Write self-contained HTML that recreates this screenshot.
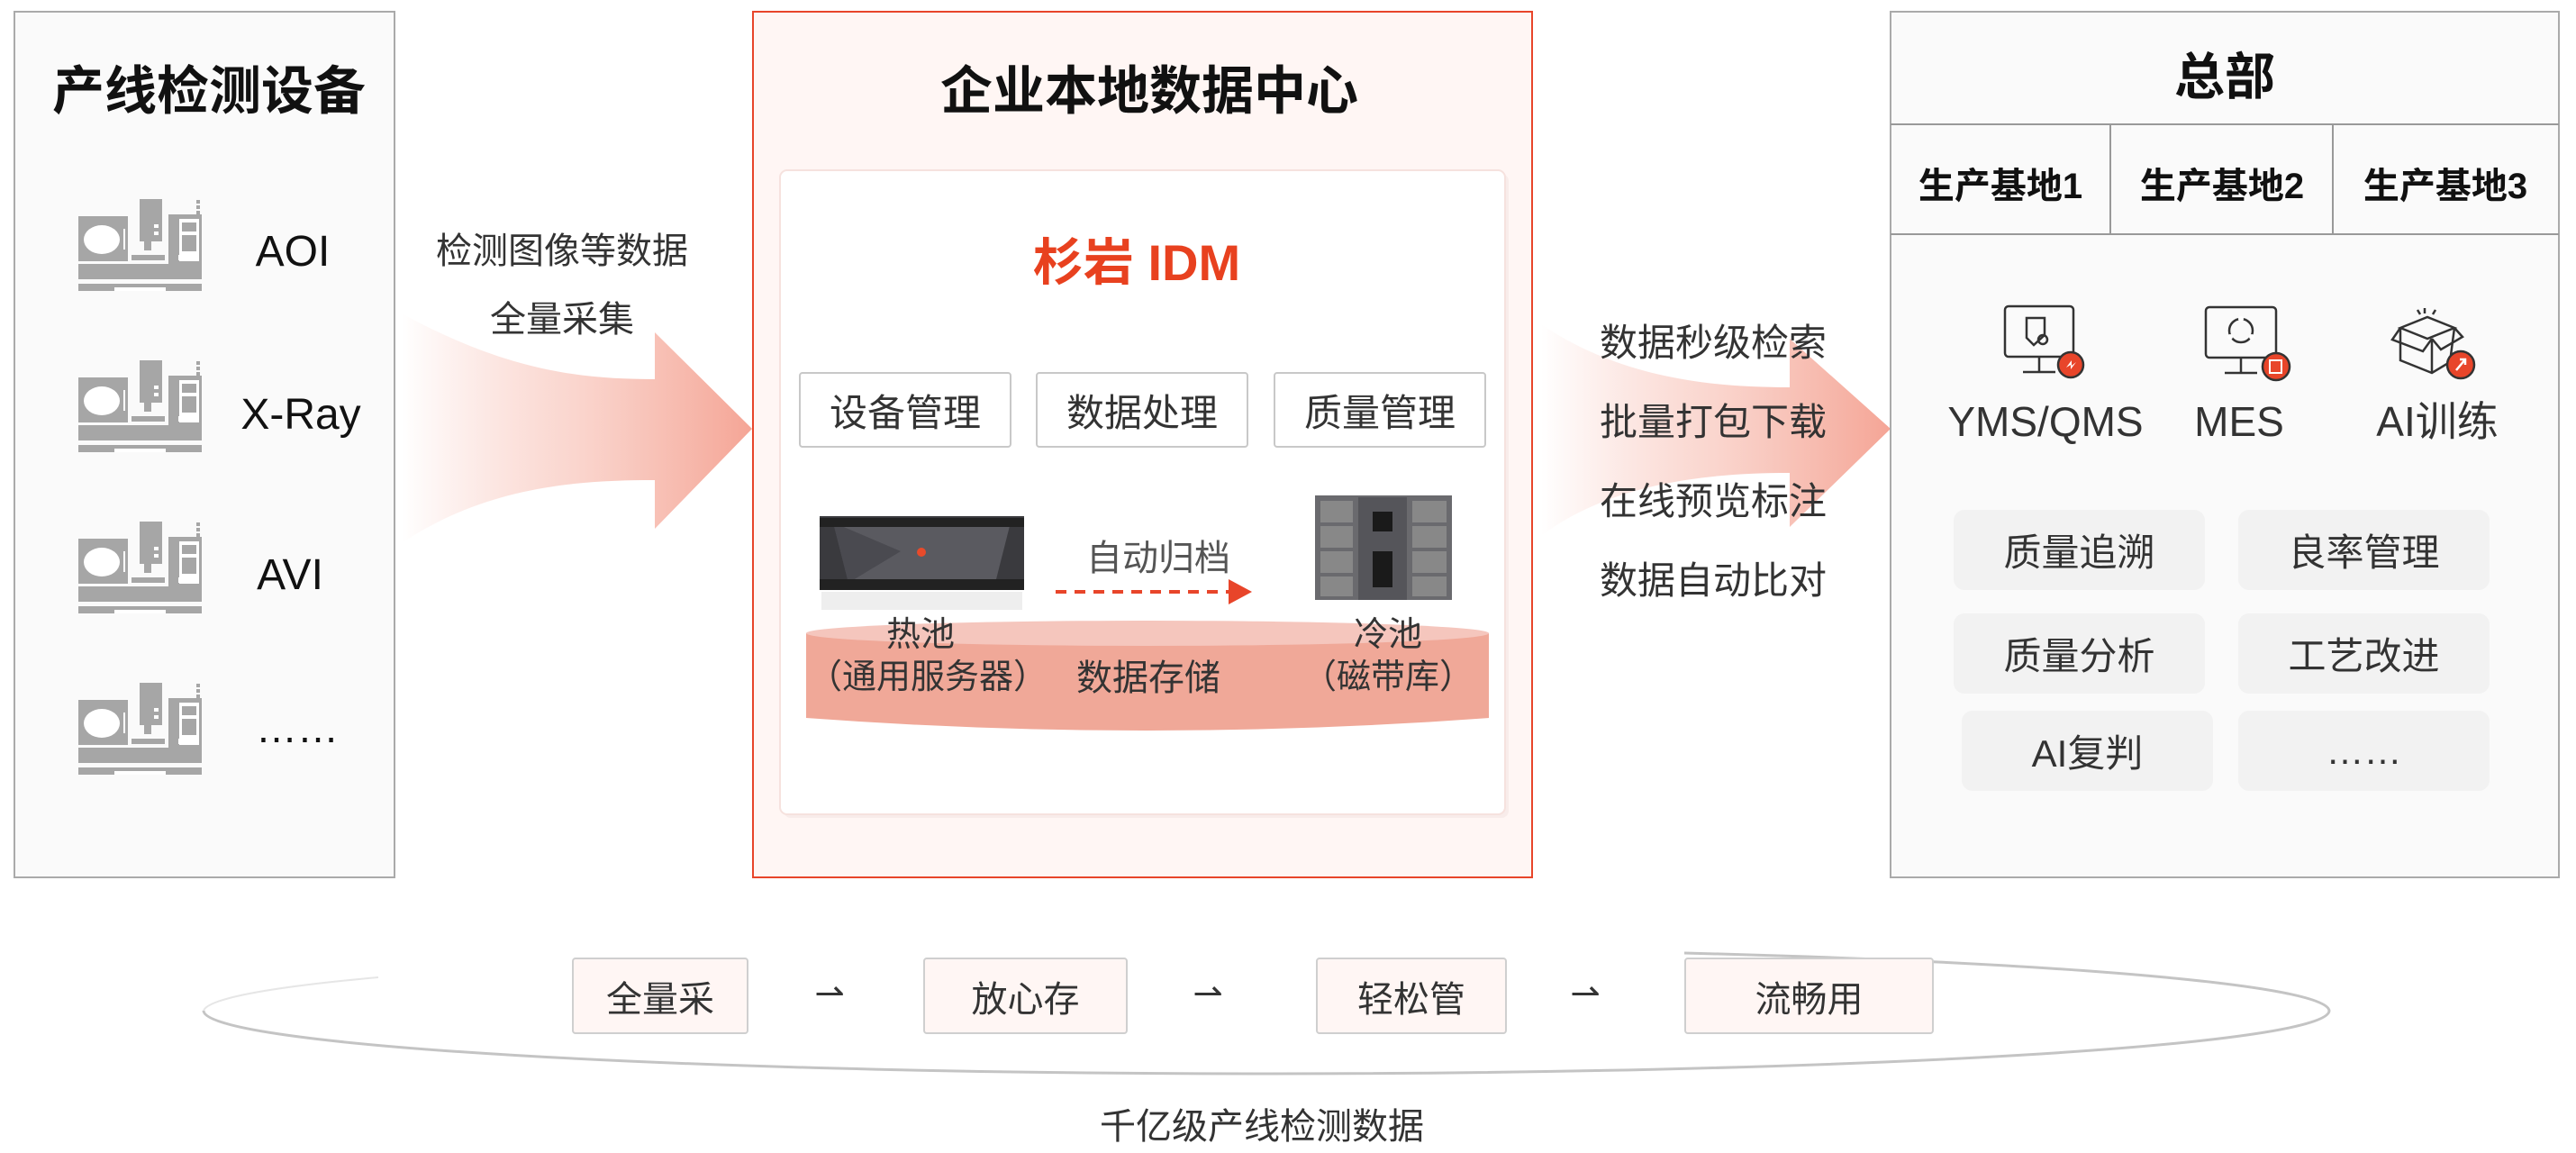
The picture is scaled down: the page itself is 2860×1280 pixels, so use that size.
<!DOCTYPE html>
<html><head><meta charset="utf-8"><style>
*{margin:0;padding:0;box-sizing:border-box}
body{width:2860px;height:1280px;background:#fff;position:relative;overflow:hidden;font-family:"Liberation Sans","Noto Sans CJK SC",sans-serif;color:#333}
.a{position:absolute}
.c{position:absolute;transform:translate(-50%,-50%);white-space:nowrap;line-height:1}
.btn{position:absolute;border:2px solid #c8c8c8;border-radius:4px;background:#fff;display:flex;align-items:center;justify-content:center;font-size:42px;color:#333}
.gb{position:absolute;background:#f2f2f2;border-radius:12px;display:flex;align-items:center;justify-content:center;font-size:42px;color:#333}
.pb{position:absolute;background:#fff6f4;border:2px solid #cfcfcf;border-radius:4px;display:flex;align-items:center;justify-content:center;font-size:40px;color:#333}
</style></head><body>
<svg class="a" style="left:0;top:0" width="2860" height="1280">
<defs>
<linearGradient id="ag" x1="0" x2="1" y1="0" y2="0">
<stop offset="0" stop-color="#f4a090" stop-opacity="0"/>
<stop offset="0.5" stop-color="#f6b3a5" stop-opacity="0.55"/>
<stop offset="1" stop-color="#f4a090" stop-opacity="0.95"/>
</linearGradient>
<symbol id="m" viewBox="0 0 137 102" preserveAspectRatio="none">
<g fill="#a6a6a6">
<rect x="0" y="19" width="55" height="50"/>
<rect x="68" y="0" width="25" height="47"/>
<rect x="73" y="47" width="8" height="10"/>
<rect x="59" y="62" width="37" height="6"/>
<rect x="100" y="17" width="37" height="72"/>
<rect x="0" y="72" width="137" height="17"/>
<rect x="131" y="1" width="4" height="4"/><rect x="131" y="7" width="4" height="4"/><rect x="131" y="13" width="4" height="4"/>
<rect x="0" y="94" width="137" height="8"/>
</g>
<ellipse cx="26" cy="45" rx="20" ry="16" fill="#fff"/>
<rect x="50" y="33" width="2" height="23" fill="#fff"/>
<rect x="84" y="28" width="5" height="4" fill="#fff"/><rect x="84" y="36" width="5" height="4" fill="#fff"/>
<rect x="112" y="22" width="22" height="47" fill="#fff"/>
<rect x="115" y="26" width="16" height="10" fill="#a6a6a6"/>
<rect x="115" y="40" width="16" height="18" fill="#a6a6a6"/>
<rect x="111" y="62" width="10" height="6" fill="#fff"/>
<rect x="40" y="98" width="57" height="4" fill="#fff"/>
</symbol>
</defs>
<rect x="16" y="13" width="422" height="961" fill="#fafafa" stroke="#aaa" stroke-width="2"/>
<use href="#m" x="87" y="221" width="137" height="102"/>
<use href="#m" x="87" y="400" width="137" height="102"/>
<use href="#m" x="87" y="579" width="137" height="102"/>
<use href="#m" x="87" y="758" width="137" height="102"/>
<path d="M446 348 C560 410 640 421 727 421 L727 369 L835 476 L727 587 L727 533 C640 533 540 540 446 603 Z" fill="url(#ag)"/>
<path d="M1711 360 C1800 420 1900 430 1987 430 L1987 376 L2099 476 L1987 585 L1987 525 C1900 525 1790 535 1711 595 Z" fill="url(#ag)"/>
<rect x="836" y="13" width="865" height="961" fill="#fff6f4" stroke="#e8452a" stroke-width="2"/>
<rect x="870" y="193" width="805" height="715" rx="8" fill="#f3e6e3" opacity="0.6"/>
<rect x="866" y="189" width="805" height="715" rx="8" fill="#fff" stroke="#f6e2de" stroke-width="2"/>
<path d="M895 703 L895 797 Q1274 825 1653 797 L1653 703 Z" fill="#f0a898"/>
<ellipse cx="1274" cy="703" rx="379" ry="14" fill="#f5c6bd"/>
<rect x="910" y="573" width="227" height="82" fill="#3a3a3e"/>
<polygon points="925,580 1122,580 1105,647 942,647" fill="#5a5a60"/>
<polygon points="925,580 1000,612 942,647" fill="#4a4a50"/>
<rect x="910" y="575" width="227" height="10" fill="#222"/>
<rect x="910" y="643" width="227" height="12" fill="#222"/>
<circle cx="1023" cy="613" r="5" fill="#e84a2a"/>
<rect x="912" y="657" width="223" height="20" fill="#ddd" opacity="0.5"/>
<rect x="1460" y="550" width="152" height="116" fill="#6a6a6e"/>
<rect x="1508" y="552" width="54" height="114" fill="#55555a"/>
<rect x="1524" y="568" width="22" height="22" fill="#1a1a1a"/>
<rect x="1524" y="612" width="22" height="40" fill="#1a1a1a"/>
<g fill="#888"><rect x="1466" y="556" width="36" height="24"/><rect x="1466" y="584" width="36" height="24"/><rect x="1466" y="612" width="36" height="24"/><rect x="1466" y="640" width="36" height="22"/>
<rect x="1568" y="556" width="38" height="24"/><rect x="1568" y="584" width="38" height="24"/><rect x="1568" y="612" width="38" height="24"/><rect x="1568" y="640" width="38" height="22"/></g>
<line x1="1172" y1="657" x2="1365" y2="657" stroke="#e8452a" stroke-width="4" stroke-dasharray="12 9"/>
<polygon points="1364,643 1390,657 1364,671" fill="#e8452a"/>
<rect x="2099" y="13" width="742" height="961" fill="#fafafa" stroke="#aaa" stroke-width="2"/>
<line x1="2099" y1="138" x2="2841" y2="138" stroke="#999" stroke-width="2"/>
<line x1="2099" y1="260" x2="2841" y2="260" stroke="#999" stroke-width="2"/>
<line x1="2343" y1="138" x2="2343" y2="260" stroke="#999" stroke-width="2"/>
<line x1="2590" y1="138" x2="2590" y2="260" stroke="#999" stroke-width="2"/>
<g fill="none" stroke="#333" stroke-width="2.5">
<rect x="2226" y="340" width="76" height="56" rx="4"/><line x1="2264" y1="396" x2="2264" y2="412"/><line x1="2246" y1="413" x2="2282" y2="413"/>
<path d="M2250 353 L2270 353 L2270 372 L2258 383 L2250 375 Z"/><circle cx="2268" cy="377" r="5"/>
<rect x="2449" y="341" width="78" height="56" rx="4"/><line x1="2488" y1="397" x2="2488" y2="413"/><line x1="2470" y1="414" x2="2506" y2="414"/>
<circle cx="2488" cy="367" r="13"/>
<path d="M2665 364 L2695 352 L2725 364 L2695 376 Z M2665 364 L2665 400 L2700 414 L2720 402 L2725 364"/>
<line x1="2700" y1="376" x2="2700" y2="414"/><path d="M2665 364 L2656 377 L2690 390 L2700 376 M2725 364 L2734 374 L2710 388 L2700 376"/>
<line x1="2692" y1="342" x2="2692" y2="348"/><line x1="2684" y1="344" x2="2687" y2="349"/><line x1="2704" y1="344" x2="2701" y2="349"/>
</g>
<g stroke="#333" stroke-width="2.5" fill="#e8452a">
<circle cx="2299" cy="405" r="14"/><circle cx="2527" cy="407" r="15"/><circle cx="2732" cy="405" r="15"/>
</g>
<g fill="#fff"><circle cx="2488" cy="354" r="3"/><circle cx="2476" cy="374" r="3"/><circle cx="2500" cy="374" r="3"/></g>
<path d="M2294 408 L2300 400 L2300 406 L2305 402 L2299 410 L2299 405 Z" fill="#fff"/>
<path d="M2727 411 L2737 399 M2731 399 L2737 399 L2737 405" stroke="#fff" stroke-width="2.5" fill="none"/>
<rect x="2520" y="400" width="13" height="14" fill="none" stroke="#fff" stroke-width="2"/>
<path d="M1870 1058 A1180 70 0 0 1 2586 1122 A1180 70 0 0 1 226 1122" fill="none" stroke="#c4c4c4" stroke-width="3"/>
<path d="M226 1122 A1180 70 0 0 1 420 1085" fill="none" stroke="#e6e6e6" stroke-width="2"/>
</svg>

<div class="c" style="left:232px;top:102px;font-size:58px;font-weight:bold;color:#111">产线检测设备</div>
<div class="c" style="left:325px;top:280px;font-size:48px;color:#111">AOI</div>
<div class="c" style="left:334px;top:461px;font-size:48px;color:#111">X-Ray</div>
<div class="c" style="left:322px;top:639px;font-size:48px;color:#111">AVI</div>
<div class="c" style="left:330px;top:808px;font-size:46px;color:#111">……</div>

<div class="c" style="left:624px;top:279px;font-size:40px">检测图像等数据</div>
<div class="c" style="left:624px;top:355px;font-size:40px">全量采集</div>

<div class="c" style="left:1276px;top:102px;font-size:58px;font-weight:bold;color:#111">企业本地数据中心</div>
<div class="c" style="left:1262px;top:292px;font-size:56px;font-weight:bold;color:#e8411f">杉岩 IDM</div>
<div class="btn" style="left:887px;top:413px;width:236px;height:84px">设备管理</div>
<div class="btn" style="left:1150px;top:413px;width:236px;height:84px">数据处理</div>
<div class="btn" style="left:1414px;top:413px;width:236px;height:84px">质量管理</div>
<div class="c" style="left:1286px;top:620px;font-size:40px;color:#555">自动归档</div>
<div class="c" style="left:1022px;top:705px;font-size:38px">热池</div>
<div class="c" style="left:1030px;top:752px;font-size:38px">（通用服务器）</div>
<div class="c" style="left:1275px;top:753px;font-size:40px">数据存储</div>
<div class="c" style="left:1541px;top:705px;font-size:38px">冷池</div>
<div class="c" style="left:1541px;top:752px;font-size:38px">（磁带库）</div>

<div class="a" style="left:1776px;top:337px;font-size:42px;line-height:88px">数据秒级检索<br>批量打包下载<br>在线预览标注<br>数据自动比对</div>

<div class="c" style="left:2470px;top:86px;font-size:56px;font-weight:bold;color:#111">总部</div>
<div class="c" style="left:2221px;top:207px;font-size:40px;font-weight:bold;color:#111">生产基地1</div>
<div class="c" style="left:2467px;top:207px;font-size:40px;font-weight:bold;color:#111">生产基地2</div>
<div class="c" style="left:2715px;top:207px;font-size:40px;font-weight:bold;color:#111">生产基地3</div>
<div class="c" style="left:2271px;top:468px;font-size:46px">YMS/QMS</div>
<div class="c" style="left:2486px;top:468px;font-size:46px">MES</div>
<div class="c" style="left:2706px;top:468px;font-size:46px">AI训练</div>
<div class="gb" style="left:2169px;top:566px;width:279px;height:89px">质量追溯</div>
<div class="gb" style="left:2485px;top:566px;width:279px;height:89px">良率管理</div>
<div class="gb" style="left:2169px;top:681px;width:279px;height:89px">质量分析</div>
<div class="gb" style="left:2485px;top:681px;width:279px;height:89px">工艺改进</div>
<div class="gb" style="left:2178px;top:789px;width:279px;height:89px">AI复判</div>
<div class="gb" style="left:2485px;top:789px;width:279px;height:89px">……</div>

<div class="pb" style="left:635px;top:1063px;width:196px;height:85px">全量采</div>
<div class="pb" style="left:1025px;top:1063px;width:227px;height:85px">放心存</div>
<div class="pb" style="left:1461px;top:1063px;width:212px;height:85px">轻松管</div>
<div class="pb" style="left:1870px;top:1063px;width:277px;height:85px">流畅用</div>
<div class="c" style="left:921px;top:1103px;font-size:40px">⇀</div>
<div class="c" style="left:1341px;top:1103px;font-size:40px">⇀</div>
<div class="c" style="left:1760px;top:1103px;font-size:40px">⇀</div>
<div class="c" style="left:1401px;top:1251px;font-size:40px">千亿级产线检测数据</div>
</body></html>
